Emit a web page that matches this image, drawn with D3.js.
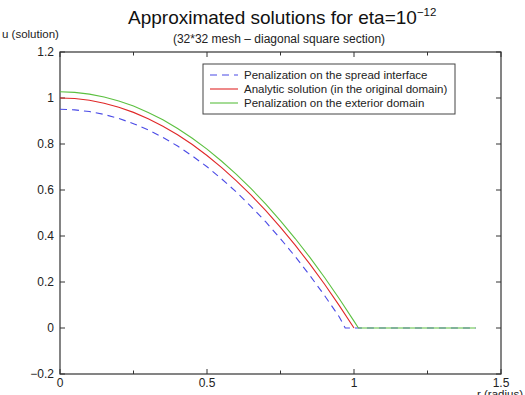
<!DOCTYPE html>
<html>
<script src='https://d3js.org/d3.v7.min.js'></script>
<body style="margin:0;background:#fff">
<svg id="chart" width=525 height=395></svg>
<script type='text/javascript'>
// radius samples (shared by the curved parts)
var rSteps=[0,0.05,0.1,0.15,0.2,0.25,0.3,0.35,0.4,0.45,0.5,0.55,0.6,0.65,0.7,0.75,0.8,0.85,0.9,0.95,1.0];
// values
var blueR=rSteps.slice(0,20).concat([0.97,1.414]);
var blueU=[0.951,0.9485,0.941,0.9285,0.911,0.8885,0.861,0.8285,0.791,0.748,0.701,0.648,0.591,0.528,0.461,0.388,0.311,0.228,0.141,0.048,0,0];
var redR=rSteps;
var redU=[1,0.9975,0.99,0.9775,0.96,0.9375,0.91,0.8775,0.84,0.7975,0.75,0.6975,0.64,0.5775,0.51,0.4375,0.36,0.2775,0.19,0.0975,0];
var greenR=rSteps.concat([1.015,1.414]);
var greenU=[1.027,1.0245,1.017,1.0046,0.987,0.965,0.937,0.905,0.8675,0.825,0.778,0.725,0.668,0.606,0.5385,0.466,0.389,0.307,0.2195,0.127,0.030,0,0];
var legendNames=['Penalization on the spread interface','Analytic solution (in the original domain)','Penalization on the exterior domain'];
var colors=['#4a4ae6','#e02828','#5cc040'];
var xTicks=[0,0.25,0.5,0.75,1,1.25,1.5];
var xLabels=[0,0.5,1,1.5];
var yTicks=[-0.2,0,0.2,0.4,0.6,0.8,1,1.2];

var svg=d3.select('#chart');
var font='Liberation Sans, Arial, Helvetica, sans-serif';
var xs=d3.scaleLinear().domain([0,1.5]).range([60,501]);
var ys=d3.scaleLinear().domain([-0.2,1.2]).range([374,52]);
var fmt=function(d){return d<0?'\u2212'+Math.abs(d):String(d);};

// frame
svg.append('rect').attr('x',60).attr('y',52).attr('width',441).attr('height',322)
.attr('fill','none').attr('stroke','#333').attr('stroke-width',1.2);

// inward ticks
var tk=svg.append('g').attr('stroke','#333').attr('stroke-width',1);
xTicks.forEach(function(t){
 var L=(xLabels.indexOf(t)>=0)?5:3.5;
 tk.append('line').attr('x1',xs(t)).attr('x2',xs(t)).attr('y1',374).attr('y2',374-L);
 tk.append('line').attr('x1',xs(t)).attr('x2',xs(t)).attr('y1',52).attr('y2',52+L);
});
yTicks.forEach(function(t){
 tk.append('line').attr('x1',60).attr('x2',65).attr('y1',ys(t)).attr('y2',ys(t));
 tk.append('line').attr('x1',501).attr('x2',496).attr('y1',ys(t)).attr('y2',ys(t));
});

// tick labels
svg.append('g').selectAll('text').data(xLabels).enter().append('text')
.attr('x',function(d){return xs(d);}).attr('y',387).attr('text-anchor','middle')
.attr('font-family',font).attr('font-size',12).attr('fill','#222').text(fmt);
svg.append('g').selectAll('text').data(yTicks).enter().append('text')
.attr('x',54).attr('y',function(d){return ys(d)+4;}).attr('text-anchor','end')
.attr('font-family',font).attr('font-size',12).attr('fill','#222').text(fmt);

// curves
var series=[[blueR,blueU],[redR,redU],[greenR,greenU]];
var line=d3.line().x(function(d){return xs(d[0]);}).y(function(d){return ys(d[1]);});
series.forEach(function(s,i){
 var pts=s[0].map(function(r,j){return [r,s[1][j]];});
 svg.append('path').datum(pts).attr('d',line).attr('fill','none')
 .attr('stroke',colors[i]).attr('stroke-width',1.1)
 .attr('stroke-dasharray',i==0?'7,5':null);
});

// legend
var lg=svg.append('g');
lg.append('rect').attr('x',203).attr('y',64).attr('width',252).attr('height',50)
.attr('fill','#fff').attr('stroke','#444').attr('stroke-width',1);
legendNames.forEach(function(n,i){
 var y=75+i*14;
 lg.append('line').attr('x1',210).attr('x2',238).attr('y1',y).attr('y2',y)
 .attr('stroke',colors[i]).attr('stroke-width',1.1).attr('stroke-dasharray',i==0?'7,5':null);
 lg.append('text').attr('x',244).attr('y',y+4).attr('font-family',font).attr('font-size',11.5)
 .attr('fill','#222').text(n);
});

// titles
var t=svg.append('text').attr('x',128).attr('y',24).attr('font-family',font).attr('font-size',19).attr('fill','#111');
t.append('tspan').text('Approximated solutions for eta=10');
t.append('tspan').attr('dy',-8).attr('font-size',11.5).text('\u221212');
svg.append('text').attr('x',279).attr('y',43).attr('text-anchor','middle').attr('font-family',font)
.attr('font-size',12).attr('fill','#222').text('(32*32 mesh \u2013 diagonal square section)');
svg.append('text').attr('x',2).attr('y',38).attr('font-family',font).attr('font-size',11.5)
.attr('fill','#222').text('u (solution)');
svg.append('text').attr('x',477).attr('y',398).attr('font-family',font).attr('font-size',11.5)
.attr('fill','#222').text('r (radius)');
</script>
</body>
</html>
